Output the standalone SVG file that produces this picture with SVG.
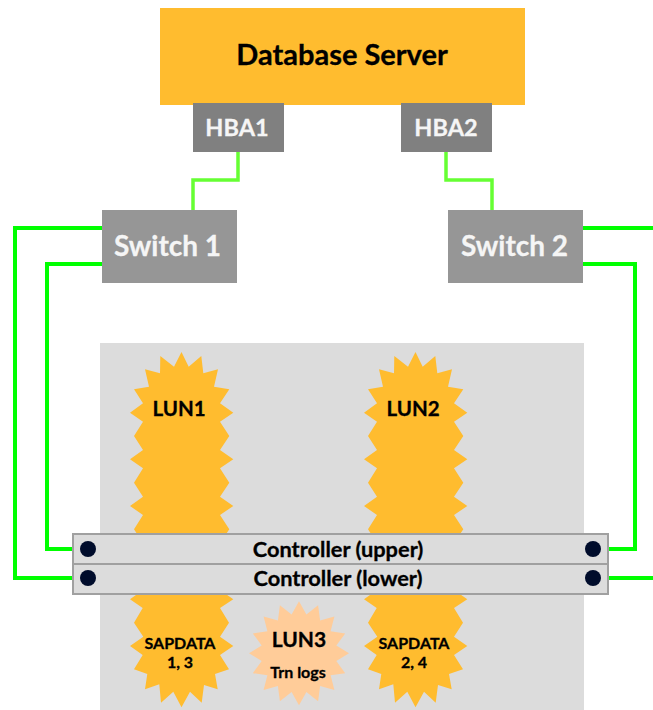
<svg xmlns="http://www.w3.org/2000/svg" xmlns:xlink="http://www.w3.org/1999/xlink" width="653" height="710" viewBox="0 0 653 710">
<style>
text{font-family:"Lato","Liberation Sans",sans-serif;font-weight:700;text-anchor:middle;fill:#000;stroke:#000;stroke-width:.3}
text.w{fill:#f5f5f5;stroke:#f5f5f5}
.g1{fill:none;stroke:#66ff33;stroke-width:3.5}
.g2{fill:none;stroke:#00ff00;stroke-width:4}
.ctl{fill:#dcdcdc;stroke:#a0a0a0;stroke-width:2}
.dot{fill:#000c2b}
.burst{fill:#ffbc2f}
</style>
<defs>
<polygon id="tall" class="burst" points="181.5,352 188.7,366.7 201.3,356 203.3,373.3 218,369.3 214,386.7 229.3,389.3 220,403.3 233.3,412.7 220,421.7 229.3,436 220,450 233.3,459.3 220,468.3 229.3,482.7 220,496.7 233.3,506 220,515 229.3,529.3 220,543 233.3,552.7 220,562 229.3,576 220,590 233.3,599.3 220,608 229,622.7 220,636.7 233.3,646 220,655 229,669.3 215,674 217.7,689.3 204,685 201.7,702.7 190,691.7 181.5,707.3 173.3,691.7 161,702.7 159.3,684.3 145,689.3 147.3,674 134,669.3 142.7,655 130,646 143.3,636.7 134,622.7 142.7,608 130,599.3 143,590 134,576 143,562 130,552.7 143,543 134,529.3 143,515 130,506 143,496.7 134,482.7 143,468.3 130,459.3 143,450 134,436 143,421.7 130,412.7 143,403.3 134,389.3 149,386.7 145,369.3 160,373.3 160.3,356 174,366.7"/>
</defs>
<rect x="100" y="343" width="484" height="367" fill="#dcdcdc"/>
<g id="connectors">
<path class="g1" d="M238 152V180H193V210"/>
<path class="g1" d="M446 152V180H492V210"/>
<path class="g2" d="M102 228H15V578H88"/>
<path class="g2" d="M102 264H47V549H74"/>
<path class="g2" d="M583 228H653"/>
<path class="g2" d="M583 264H635V549H608"/>
<path class="g2" d="M608 578H653"/>
</g>
<g id="lun1"><use xlink:href="#tall" href="#tall"/><text x="179" y="416" font-size="20.5">LUN1</text></g>
<g id="lun2"><use xlink:href="#tall" href="#tall" x="234"/><text x="413" y="416" font-size="20.5">LUN2</text></g>
<g id="sapdata1"><text x="180" y="648.5" font-size="16">SAPDATA</text><text x="180" y="668" font-size="16">1, 3</text></g>
<g id="sapdata2"><text x="414" y="648.5" font-size="16">SAPDATA</text><text x="414" y="668" font-size="16">2, 4</text></g>
<g id="lun3">
<polygon fill="#ffcc99" points="299,601.3 306.4,614.6 318.1,605.3 320.1,620.5 334.4,616.5 330.6,631.3 345.2,633.4 336.3,645.6 349,653.3 336.3,661 345.2,673.2 330.6,675.3 334.4,690.1 320.1,686.1 318.1,701.3 306.4,692 299,705.3 291.6,692 279.9,701.3 277.9,686.1 263.6,690.1 267.4,675.3 252.8,673.2 261.7,661 249,653.3 261.7,645.6 252.8,633.4 267.4,631.3 263.6,616.5 277.9,620.5 279.9,605.3 291.6,614.6"/>
<text x="299" y="647" font-size="21">LUN3</text><text x="298" y="678" font-size="16">Trn logs</text></g>
<g id="database-server"><rect x="160" y="8" width="365" height="97" fill="#ffbc2f"/><text x="342" y="65" font-size="29">Database Server</text></g>
<g id="hba1"><rect x="193" y="103" width="91" height="49" fill="#808080"/><text class="w" x="237" y="136" font-size="23.5">HBA1</text></g>
<g id="hba2"><rect x="401" y="103" width="91" height="49" fill="#808080"/><text class="w" x="446" y="136" font-size="23.5">HBA2</text></g>
<g id="switch1"><rect x="102" y="210" width="135" height="73" fill="#969696"/><text class="w" x="167.5" y="256" font-size="28">Switch 1</text></g>
<g id="switch2"><rect x="448" y="210" width="135" height="73" fill="#969696"/><text class="w" x="514.5" y="256" font-size="28">Switch 2</text></g>
<g id="controller-upper"><rect class="ctl" x="73" y="534" width="535" height="30"/><circle class="dot" cx="88" cy="549" r="8"/><circle class="dot" cx="593" cy="549" r="8"/><text x="338" y="556.5" font-size="21.8">Controller (upper)</text></g>
<g id="controller-lower"><rect class="ctl" x="73" y="564" width="535" height="30"/><circle class="dot" cx="88" cy="578" r="8"/><circle class="dot" cx="593" cy="578" r="8"/><text x="338" y="585.5" font-size="21.8">Controller (lower)</text></g>
</svg>
